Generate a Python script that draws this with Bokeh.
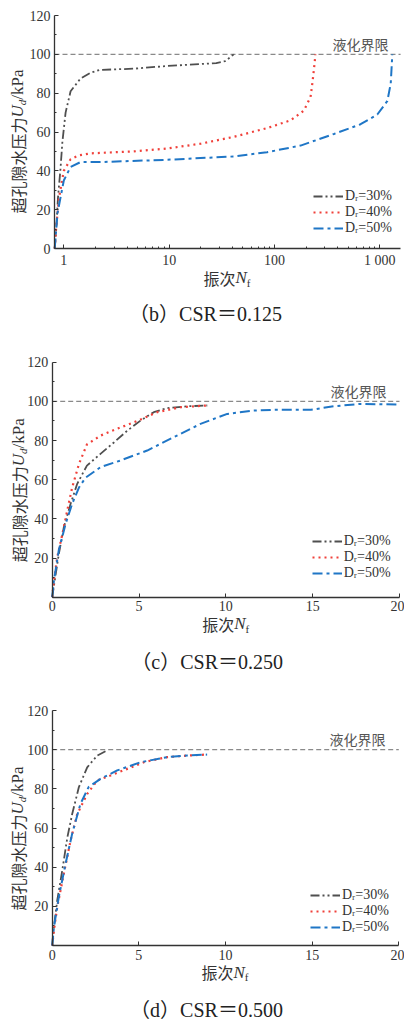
import math
from bokeh.plotting import figure
from bokeh.models import Range1d, FixedTicker, Label, Legend, LegendItem
from bokeh.layouts import column
from bokeh.embed import file_html
from bokeh.resources import INLINE

# ---------------- data ----------------
series_labels = ["Dᵣ=30%", "Dᵣ=40%", "Dᵣ=50%"]
captions = ["（b）CSR＝0.125", "（c）CSR＝0.250", "（d）CSR＝0.500"]
limit_text = "液化界限"
limit_value = 100

# (b) CSR = 0.125, log x
b_n30 = [0.82, 0.85, 0.88, 0.93, 0.97, 1.04, 1.16, 1.44, 1.79, 2.2, 4.6, 9.6, 20, 28, 34, 38, 41]
b_u30 = [0, 11, 26, 41, 55, 70, 81, 87.5, 90.5, 92, 92.6, 94, 95, 95.5, 96.5, 98.5, 100]
b_n40 = [0.82, 0.85, 0.9, 1.0, 1.16, 1.4, 1.79, 4.6, 9.6, 20, 41, 85, 142, 190, 220, 230, 240, 245]
b_u40 = [0, 12, 26, 40, 46, 48, 49, 50, 51.5, 54, 57.5, 62, 66, 71, 78, 86, 95, 100]
b_n50 = [0.82, 0.87, 1.0, 1.16, 1.44, 2.2, 9.6, 41, 85, 177, 367, 657, 947, 1180, 1270, 1315]
b_u50 = [0, 18, 35, 42, 44.5, 44.5, 45.7, 47.4, 49.6, 53, 59, 64, 69, 76, 85, 100]

# (c) CSR = 0.250
c_n30 = [0, 0.38, 0.67, 1.06, 1.44, 2.0, 2.78, 3.55, 4.32, 5.09, 5.85, 6.6, 7.77, 8.93]
c_u30 = [0, 22, 35.7, 47.7, 57.9, 67.2, 73.2, 79, 85, 90.2, 94.5, 96.5, 97.5, 97.9]
c_n40 = [0, 0.1, 0.29, 0.58, 0.86, 1.15, 1.54, 2.0, 2.78, 3.74, 4.9, 6.05, 7.39, 8.93]
c_u40 = [0, 8.5, 20.4, 32, 44, 56, 68, 78, 82.5, 86, 90, 94.5, 97, 97.9]
c_n50 = [0, 0.1, 0.38, 0.77, 1.15, 1.54, 1.92, 2.78, 3.93, 5.47, 7.0, 8.54, 10.08, 11.6, 12.96, 14.9, 16.2, 17.75, 19.96]
c_u50 = [0, 8.5, 24, 37.4, 47.7, 56, 61, 66.4, 69.8, 74.9, 81.7, 88.5, 93.6, 95.3, 95.7, 95.7, 97.5, 98.7, 98.4]

# (d) CSR = 0.500
d_n30 = [0, 0.1, 0.29, 0.58, 0.87, 1.15, 1.54, 2.02, 2.6, 3.17]
d_u30 = [0, 9.4, 23, 38.3, 55, 67, 80.9, 91, 97, 99.6]
d_n40 = [0, 0.1, 0.29, 0.67, 1.06, 1.44, 2.02, 2.6, 3.37, 4.33, 5.29, 6.63, 7.79, 8.94]
d_u40 = [0, 7.7, 19.6, 36.6, 53.6, 67, 77.4, 84.3, 86.8, 90.2, 93.6, 96.2, 97, 97.5]
d_n50 = [0, 0.1, 0.38, 0.77, 1.15, 1.63, 2.1, 2.79, 3.75, 5.1, 6.63, 7.79, 8.94]
d_u50 = [0, 9.4, 24.7, 41.7, 57, 72.3, 80.9, 85.1, 89.4, 93.6, 96.2, 97, 97.5]

y_limits = (0, 120)
y_ticks = [0, 20, 40, 60, 80, 100, 120]
y_minor = [10, 30, 50, 70, 90, 110]
log_limits = (0.816, 1575)
log_ticks = [1, 10, 100, 1000]
log_tick_labels = {1: "1", 10: "10", 100: "100", 1000: "1 000"}
log_minor = [2, 3, 4, 5, 6, 7, 8, 9, 20, 30, 40, 50, 60, 70, 80, 90,
             200, 300, 400, 500, 600, 700, 800, 900]
lin_limits = (0, 20)
lin_ticks = [0, 5, 10, 15, 20]

# ---------------- styles / geometry ----------------
SERIF = "Liberation Serif"
CJK = "Noto Sans CJK SC"
INK = "#333333"
STYLES = [
    dict(line_color="#4f4f4f", line_dash="9 3 2 3 2 3", line_width=1.8),
    dict(line_color="#f0403a", line_dash="2 4", line_width=2.2),
    dict(line_color="#1f76c6", line_dash="10 4 3 4", line_width=2.0),
]
W_CANVAS = 404

# Times-like advance widths (em fraction)
W = {"U": 0.722, "N": 0.667, "d": 0.5, "f": 0.333, "/": 0.278, "k": 0.5,
     "P": 0.556, "a": 0.444}


def text_width(t, size, font):
    if font == CJK:
        return len(t) * size
    return sum(W.get(ch, 0.5) for ch in t) * size


class Panel:
    def __init__(self, top, height, box):
        # box: page-pixel positions of the axes' data limits (left, right, top, bottom)
        self.top = top
        self.height = height
        self.box = box

    def sx(self, px):
        return px

    def sy(self, py):
        return self.height - (py - self.top)


def extend(lo, hi, p_lo, p_hi, size, log=False):
    """Range covering the full canvas, given that data lo/hi sit at pixel p_lo/p_hi."""
    if log:
        lo, hi = math.log10(lo), math.log10(hi)
    k = (hi - lo) / (p_hi - p_lo)
    a, b = lo - p_lo * k, lo + (size - p_lo) * k
    if log:
        a, b = 10 ** a, 10 ** b
    return a, b


def rich(p, pn, pieces, px, py, vertical=False):
    pos = 0.0
    x0, y0 = pn.sx(px), pn.sy(py)
    for t, font, size, style, shift in pieces:
        common = dict(x_units="screen", y_units="screen", text=t, text_align="left",
                      text_baseline="middle", text_font=font,
                      text_font_size=f"{size}px", text_font_style=style,
                      text_color=INK)
        if vertical:
            lab = Label(x=x0 + shift, y=y0 + pos, angle=math.pi / 2, **common)
        else:
            lab = Label(x=x0 + pos, y=y0 - shift, **common)
        p.add_layout(lab)
        pos += text_width(t, size, font)


def make_panel(xs, ys, caption, log, pn, tick_px, lay):
    left, right, top, bottom = pn.box
    ctop, H = pn.top, pn.height
    if log:
        xlim = log_limits
        xr = extend(1, 1000, tick_px[0], tick_px[1], W_CANVAS, log=True)
    else:
        xlim = lin_limits
        xr = extend(xlim[0], xlim[1], left, right, W_CANVAS)
    yr = extend(y_limits[0], y_limits[1], H - (bottom - ctop), H - (top - ctop), H)

    kw = dict(width=W_CANVAS, height=H, output_backend="svg", toolbar_location=None,
              min_border=0, min_border_left=0, min_border_right=0,
              min_border_top=0, min_border_bottom=0,
              x_range=Range1d(*xr), y_range=Range1d(*yr))
    if log:
        p = figure(x_axis_type="log", **kw)
    else:
        p = figure(**kw)
    p.outline_line_color = None
    p.grid.visible = False
    p.background_fill_color = None
    p.border_fill_color = None

    xa, ya = p.xaxis[0], p.yaxis[0]
    xa.fixed_location = y_limits[0]
    xa.bounds = xlim
    ya.fixed_location = xlim[0]
    ya.bounds = y_limits
    for ax in (xa, ya):
        ax.axis_line_color = INK
        ax.axis_line_width = 1.3
        ax.major_tick_line_color = INK
        ax.minor_tick_line_color = INK
        ax.major_tick_in = 4
        ax.major_tick_out = 0
        ax.minor_tick_in = 2
        ax.minor_tick_out = 0
        ax.major_label_text_font = SERIF
        ax.major_label_text_font_size = "14px"
        ax.major_label_text_color = INK
        ax.major_label_standoff = 4

    ya.ticker = FixedTicker(ticks=y_ticks, minor_ticks=y_minor)
    if log:
        xa.ticker = FixedTicker(ticks=log_ticks, minor_ticks=log_minor)
        xa.major_label_overrides = log_tick_labels
    else:
        xa.ticker = FixedTicker(ticks=lin_ticks, minor_ticks=[])
        ya.major_label_overrides = {0: ""}

    # liquefaction limit line
    p.line(list(xlim), [limit_value, limit_value], line_color="#8a8a8a",
           line_dash="5 3", line_width=1.1)

    items = []
    for xv, yv, st, lab in zip(xs, ys, STYLES, series_labels):
        r = p.line(xv, yv, **st)
        items.append(LegendItem(label=lab, renderers=[r]))
    lx, lyb = lay["legend"]
    leg = Legend(items=items, location=(pn.sx(lx), pn.sy(lyb)), border_line_alpha=0,
                 background_fill_alpha=0, glyph_width=30, glyph_height=14,
                 label_height=14, label_text_font=SERIF, label_text_font_size="14px",
                 label_text_color=INK, padding=0, spacing=0, margin=0,
                 label_standoff=2)
    p.add_layout(leg)

    qx, qy = lay["limit"]
    p.add_layout(Label(x=pn.sx(qx), y=pn.sy(qy), x_units="screen", y_units="screen",
                       text=limit_text, text_align="right", text_baseline="middle",
                       text_font=CJK, text_font_size="14px", text_color="#555555"))

    # x axis label: 振次N_f
    rich(p, pn, [("振次", CJK, 16, "normal", 0), ("N", SERIF, 17, "italic", 0),
                 ("f", SERIF, 11, "normal", 5)], *lay["xlabel"])
    # y axis label: 超孔隙水压力U_d/kPa
    rich(p, pn, [("超孔隙水压力", CJK, 16, "normal", 0), ("U", SERIF, 17, "italic", 0),
                 ("d", SERIF, 11, "italic", 4), ("/kPa", SERIF, 17, "normal", 0)],
         *lay["ylabel"], vertical=True)

    cx, cy = lay["caption"]
    p.add_layout(Label(x=pn.sx(cx), y=pn.sy(cy), x_units="screen", y_units="screen",
                       text=caption, text_align="center", text_baseline="middle",
                       text_font=f"{SERIF}, {CJK}", text_font_size="20px",
                       text_color="#222222"))
    return p


pb = Panel(0, 340, (54, 400, 15, 248))
pc = Panel(340, 340, (51.7, 399, 361.7, 596.7))
pd = Panel(680, 344, (51.7, 398.3, 710, 945))

p1 = make_panel([b_n30, b_n40, b_n50], [b_u30, b_u40, b_u50], captions[0], True, pb,
                (63.3, 379.3),
                dict(legend=(313, 236), limit=(388, 43), xlabel=(203, 277),
                     ylabel=(17, 213), caption=(205, 313)))
p2 = make_panel([c_n30, c_n40, c_n50], [c_u30, c_u40, c_u50], captions[1], False, pc,
                None,
                dict(legend=(311.7, 581), limit=(386, 390.7), xlabel=(201.7, 623),
                     ylabel=(18, 561.7), caption=(206.7, 661.7)))
p3 = make_panel([d_n30, d_n40, d_n50], [d_u30, d_u40, d_u50], captions[2], False, pd,
                None,
                dict(legend=(310, 934.7), limit=(385, 738.3), xlabel=(201, 971.7),
                     ylabel=(17, 910), caption=(206, 1009)))

layout = column(p1, p2, p3, spacing=0)
open("out.html", "w").write(file_html(layout, INLINE))
